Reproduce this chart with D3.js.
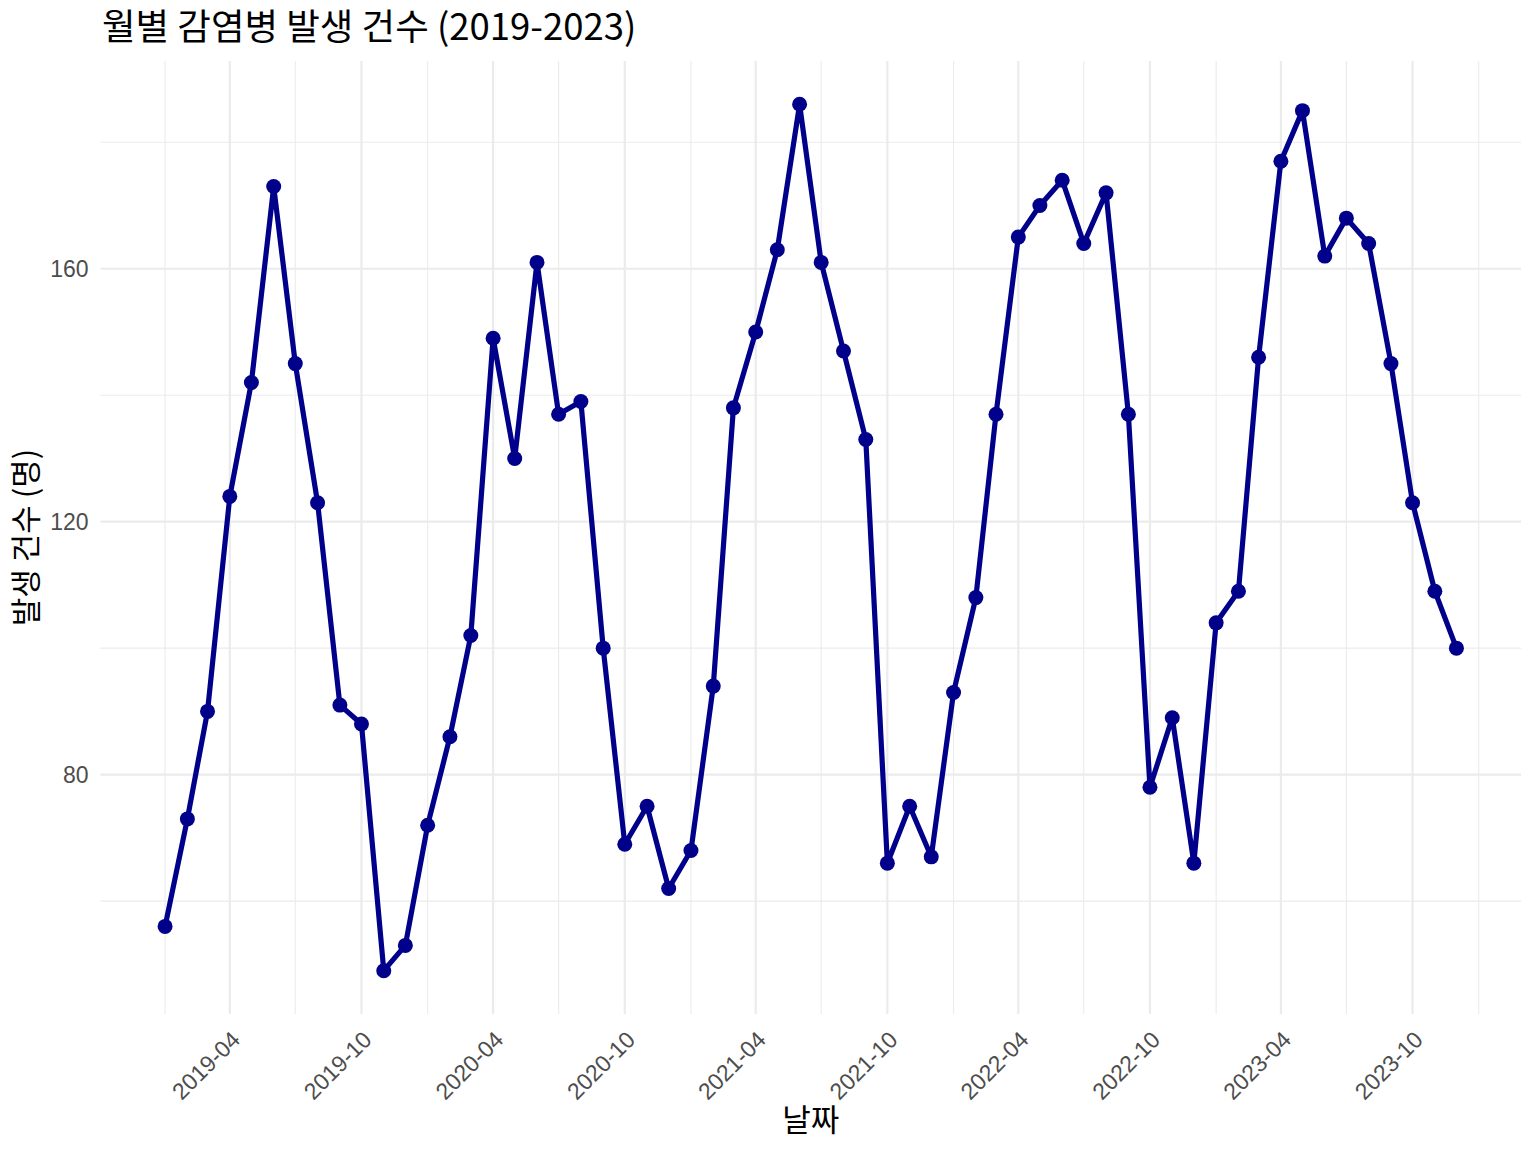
<!DOCTYPE html>
<html><head><meta charset="utf-8">
<script src="https://cdn.jsdelivr.net/npm/d3@7"></script>
<style>body{margin:0;background:#fff}svg{display:block}</style>
</head><body>
<svg id="c" width="1536" height="1152"></svg>
<script>
const months = [
"2019-01","2019-02","2019-03","2019-04","2019-05","2019-06","2019-07","2019-08","2019-09","2019-10","2019-11","2019-12",
"2020-01","2020-02","2020-03","2020-04","2020-05","2020-06","2020-07","2020-08","2020-09","2020-10","2020-11","2020-12",
"2021-01","2021-02","2021-03","2021-04","2021-05","2021-06","2021-07","2021-08","2021-09","2021-10","2021-11","2021-12",
"2022-01","2022-02","2022-03","2022-04","2022-05","2022-06","2022-07","2022-08","2022-09","2022-10","2022-11","2022-12",
"2023-01","2023-02","2023-03","2023-04","2023-05","2023-06","2023-07","2023-08","2023-09","2023-10","2023-11","2023-12"];
const cases = [
56,73,90,124,142,173,145,123,91,88,49,53,
72,86,102,149,130,161,137,139,100,69,75,62,
68,94,138,150,163,186,161,147,133,66,75,67,
93,108,137,165,170,174,164,172,137,78,89,66,
104,109,146,177,185,162,168,164,145,123,109,100];
const yTicks = [80,120,160];
const yMinor = [60,100,140,180];
const xTickLabels = ["2019-04","2019-10","2020-04","2020-10","2021-04","2021-10","2022-04","2022-10","2023-04","2023-10"];
const xMinorLabels = ["2019-01","2019-07","2020-01","2020-07","2021-01","2021-07","2022-01","2022-07","2023-01","2023-07","2024-01"];
const title = "월별 감염병 발생 건수 (2019-2023)";
const xTitle = "날짜";
const yTitle = "발생 건수 (명)";

const parse = d3.timeParse("%Y-%m");
const data = months.map((m,i)=>({d:parse(m), v:cases[i]}));
const svg = d3.select("#c");
const L=100.5, R=1521, T=61, B=1014;

const dmin = data[0].d, dmax = data[data.length-1].d;
const span = dmax - dmin;
const x = d3.scaleTime().domain([new Date(+dmin - span*0.05), new Date(+dmax + span*0.05)]).range([L,R]);
const vmin = d3.min(cases), vmax = d3.max(cases), vr = vmax-vmin;
const y = d3.scaleLinear().domain([vmin-vr*0.05, vmax+vr*0.05]).range([B,T]);

const grid = svg.append("g");
grid.selectAll(".ym").data(yMinor).join("line")
  .attr("x1",L).attr("x2",R).attr("y1",d=>y(d)).attr("y2",d=>y(d))
  .attr("stroke","#EBEBEB").attr("stroke-width",1.1);
grid.selectAll(".xm").data(xMinorLabels.map(parse)).join("line")
  .attr("y1",T).attr("y2",B).attr("x1",d=>x(d)).attr("x2",d=>x(d))
  .attr("stroke","#EBEBEB").attr("stroke-width",1.1);
grid.selectAll(".yM").data(yTicks).join("line")
  .attr("x1",L).attr("x2",R).attr("y1",d=>y(d)).attr("y2",d=>y(d))
  .attr("stroke","#EBEBEB").attr("stroke-width",2.2);
grid.selectAll(".xM").data(xTickLabels.map(parse)).join("line")
  .attr("y1",T).attr("y2",B).attr("x1",d=>x(d)).attr("x2",d=>x(d))
  .attr("stroke","#EBEBEB").attr("stroke-width",2.2);

const yAxis = d3.axisLeft(y).tickValues(yTicks).tickSize(0).tickPadding(0);
const gy = svg.append("g").attr("transform",`translate(${L-12},0)`).call(yAxis);
gy.select(".domain").remove();
gy.selectAll("text").attr("font-family","'Liberation Sans', Arial, sans-serif").attr("font-size",23).attr("fill","#4D4D4D");

const xAxis = d3.axisBottom(x).tickValues(xTickLabels.map(parse)).tickFormat(d3.timeFormat("%Y-%m")).tickSize(0).tickPadding(0);
const gx = svg.append("g").attr("transform",`translate(0,${B+10})`).call(xAxis);
gx.select(".domain").remove();
gx.selectAll("text")
  .attr("font-family","'Liberation Sans', Arial, sans-serif").attr("font-size",23).attr("fill","#4D4D4D")
  .attr("text-anchor","end").attr("dy","0.75em")
  .attr("transform","translate(-1,5) rotate(-45)");

svg.append("path").datum(data)
  .attr("d", d3.line().x(d=>x(d.d)).y(d=>y(d.v)))
  .attr("fill","none").attr("stroke","#00008B").attr("stroke-width",5.2).attr("stroke-linejoin","round");
svg.append("g").selectAll("circle").data(data).join("circle")
  .attr("cx",d=>x(d.d)).attr("cy",d=>y(d.v)).attr("r",7.5).attr("fill","#00008B");

svg.append("text").attr("x",102).attr("y",40).text(title)
  .attr("font-family","'Noto Sans CJK KR', sans-serif").attr("font-size",36.5).attr("fill","#000");
svg.append("text").attr("x",(L+R)/2).attr("y",1131).attr("text-anchor","middle").text(xTitle)
  .attr("font-family","'Noto Sans CJK KR', sans-serif").attr("font-size",31).attr("fill","#000");
svg.append("text").attr("transform",`translate(37,${(T+B)/2}) rotate(-90)`).attr("text-anchor","middle").text(yTitle)
  .attr("font-family","'Noto Sans CJK KR', sans-serif").attr("font-size",31).attr("fill","#000");
</script>
</body></html>
